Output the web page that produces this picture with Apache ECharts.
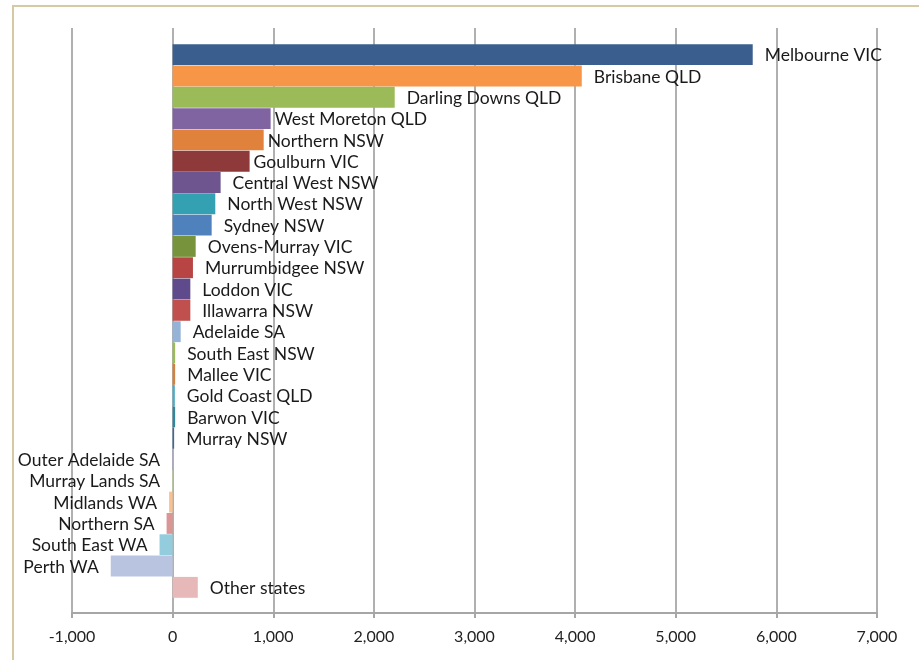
<!DOCTYPE html>
<html>
<head>
<meta charset="utf-8">
<script src="https://cdn.jsdelivr.net/npm/echarts@6/dist/echarts.min.js"></script>
<style>
html,body{margin:0;padding:0;background:#fff;}
#frame{position:absolute;left:12px;top:5px;width:1000px;height:800px;border-left:2px solid #d6c9a3;border-top:2px solid #d6c9a3;box-sizing:border-box;}
#chart{position:absolute;left:0;top:0;width:919px;height:660px;}
</style>
</head>
<body>
<div id="frame"></div>
<div id="chart"></div>
<script>
const categories = ["Melbourne VIC","Brisbane QLD","Darling Downs QLD","West Moreton QLD","Northern NSW","Goulburn VIC","Central West NSW","North West NSW","Sydney NSW","Ovens-Murray VIC","Murrumbidgee NSW","Loddon VIC","Illawarra NSW","Adelaide SA","South East NSW","Mallee VIC","Gold Coast QLD","Barwon VIC","Murray NSW","Outer Adelaide SA","Murray Lands SA","Midlands WA","Northern SA","South East WA","Perth WA","Other states"];
const values = [5765,4066,2207,974,905,765,477,424,388,229,202,176,176,80,25,25,22,25,15,-5,-5,-35,-60,-130,-615,250];
const xTicks = [-1000,0,1000,2000,3000,4000,5000,6000,7000];

const colors = ["#3a5f8e","#f79646","#9bbb59","#8064a2","#e0823c","#8e3a3a","#6e5590","#33a1b2","#4f81bd","#77933c","#b84544","#5f4a8b","#c0504d","#95b3d7","#9bbb59","#d2813e","#4bacc6","#31859c","#3b6aa0","#a6a6c8","#c3d69b","#fac090","#d99694","#93cddd","#b9c5e0","#e6b9b8"];
const tight = new Set(["West Moreton QLD","Northern NSW","Goulburn VIC"]);

const data = values.map((v, i) => ({
  value: v,
  itemStyle: {color: colors[i]},
  label: {
    position: v < 0 ? 'left' : 'right',
    distance: tight.has(categories[i]) ? 4 : 12,
    offset: [0, 1]
  }
}));

const chart = echarts.init(document.getElementById('chart'), null, {renderer:'canvas'});
const fontFamily = 'Lato, "Open Sans", sans-serif';
chart.setOption({
  animation: false,
  grid: [
    {left:72, right:42, top:28, bottom:47, containLabel:false},
    {left:72, right:42, top:44, bottom:62, containLabel:false}
  ],
  xAxis: [
    {
      gridIndex:0, type:'value', min:xTicks[0], max:xTicks[xTicks.length-1], interval:1000,
      axisLine:{show:true, lineStyle:{color:'#a6a6a6', width:2}},
      axisTick:{show:true, length:5, lineStyle:{color:'#a6a6a6', width:2}},
      splitLine:{show:true, lineStyle:{color:'#b0b0b0', width:2}},
      axisLabel:{color:'#222', fontFamily:fontFamily, fontSize:16, margin:16,
        formatter: v => v.toLocaleString('en-US')}
    },
    {
      gridIndex:1, type:'value', min:xTicks[0], max:xTicks[xTicks.length-1], interval:1000,
      show:false
    }
  ],
  yAxis: [
    {gridIndex:0, type:'value', min:0, max:1, show:false},
    {gridIndex:1, type:'category', data:categories, inverse:true, show:false}
  ],
  series: [{
    type:'bar', xAxisIndex:1, yAxisIndex:1,
    data:data,
    barCategoryGap:'2%',
    label:{show:true, formatter: p => p.name, color:'#1a1a1a', fontFamily:fontFamily, fontSize:17.5}
  }]
});
</script>
</body>
</html>
